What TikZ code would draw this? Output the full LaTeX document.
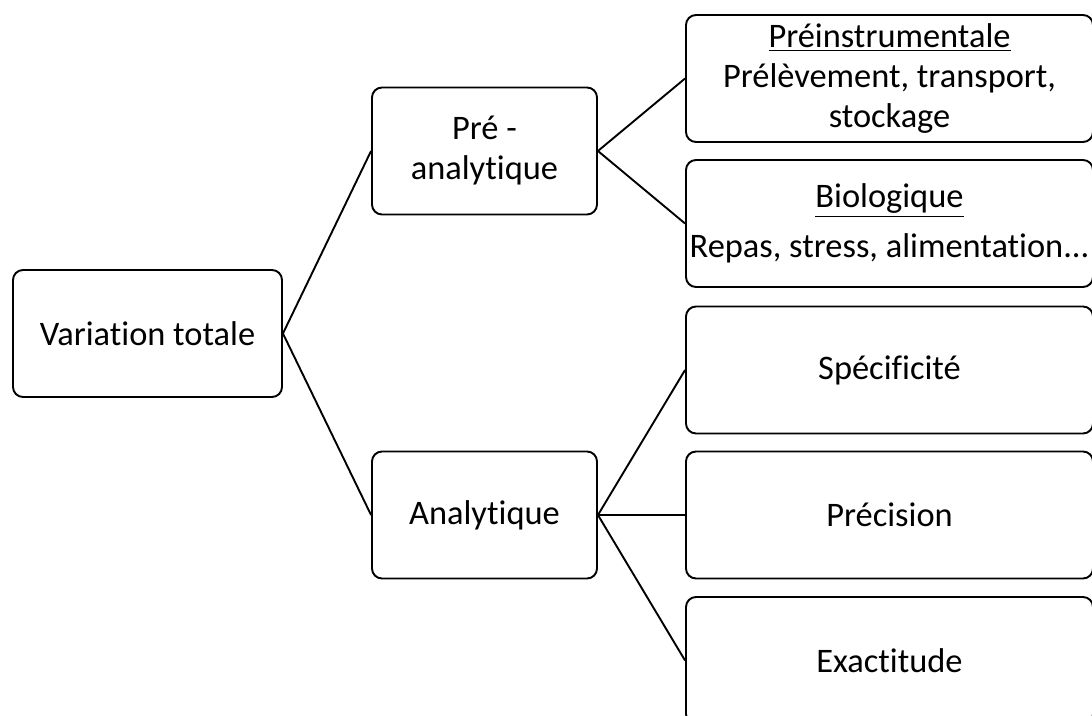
\documentclass[tikz,border=0pt]{standalone}
\usepackage{fontspec}
\setmainfont[Ligatures=NoCommon]{Carlito}
\usepackage{tikz}
\usetikzlibrary{positioning}

\begin{document}
\begin{tikzpicture}[x=0.5pt, y=-0.5pt, every node/.style={rectangle, rounded corners=5pt, draw, line width=0.95pt, align=center, minimum height=63.5pt, font=\fontsize{17.2}{20}\selectfont}]
        \useasboundingbox (0,0) rectangle (1092,716);

        \node[minimum width=134.5pt] (VT) at (147.5,333.5) {Variation totale};
        \node[minimum width=112.5pt] (PA) at (484.5,151) {Pré -\\analytique};
        \node[minimum width=112.5pt] (AN) at (484.5,515) {Analytique};

        \node[minimum width=203.5pt] (PI) at (889.5,78.5) {\underline{Préinstrumentale}\\Prélèvement, transport,\\stockage};
        \node[minimum width=203.5pt, inner xsep=0pt] (BIO) at (889.5,223.5) {\underline{Biologique}\\[5pt]Repas, stress, alimentation...};
        \node[minimum width=203.5pt] (SPE) at (889.5,370) {Spécificité};
        \node[minimum width=203.5pt] (PRE) at (889.5,515) {Précision};
        \node[minimum width=203.5pt] (EXA) at (889.5,660.5) {Exactitude};

        \draw[line width=0.95pt] (VT.east) -- (PA.west);
        \draw[line width=0.95pt] (VT.east) -- (AN.west);
        \draw[line width=0.95pt] (PA.east) -- (PI.west);
        \draw[line width=0.95pt] (PA.east) -- (BIO.west);
        \draw[line width=0.95pt] (AN.east) -- (SPE.west);
        \draw[line width=0.95pt] (AN.east) -- (PRE.west);
        \draw[line width=0.95pt] (AN.east) -- (EXA.west);
    \end{tikzpicture}
\end{document}
